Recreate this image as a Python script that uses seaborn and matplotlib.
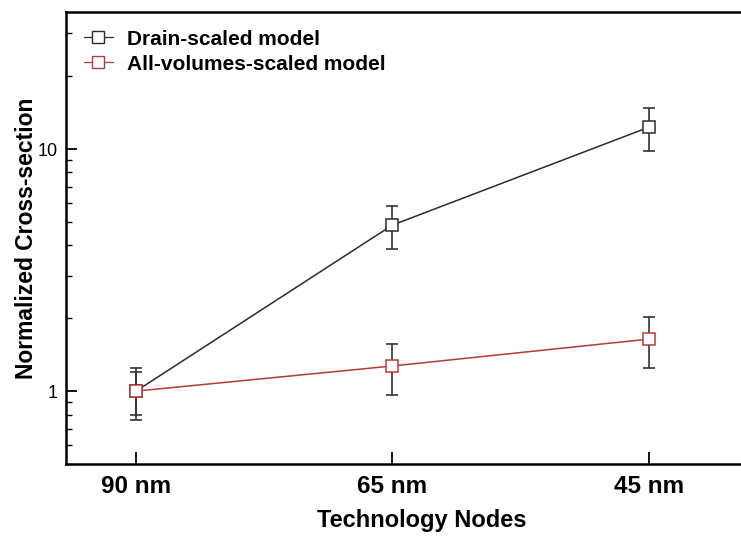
import numpy as np
import pandas as pd
import matplotlib
matplotlib.use("Agg")
import matplotlib.pyplot as plt
from matplotlib.ticker import LogLocator, FixedLocator, NullFormatter, FixedFormatter
from matplotlib.lines import Line2D
import seaborn as sns

# Technology nodes and normalized cross-section values
nodes = ["90 nm", "65 nm", "45 nm"]
drain_mean = [1.0, 4.85, 12.3]
drain_low = [0.76, 3.86, 9.8]
drain_high = [1.24, 5.83, 14.7]
allvol_mean = [1.0, 1.27, 1.64]
allvol_low = [0.80, 0.96, 1.24]
allvol_high = [1.20, 1.57, 2.02]
series_names = ["Drain-scaled model", "All-volumes-scaled model"]

sns.set_theme(style="ticks")
plt.rcParams["font.family"] = ["Liberation Sans", "DejaVu Sans"]
plt.rcParams["text.color"] = "black"
plt.rcParams["axes.labelcolor"] = "black"
plt.rcParams["xtick.color"] = "black"
plt.rcParams["ytick.color"] = "black"

pos = list(range(len(nodes)))
series = [
    (series_names[0], drain_mean, drain_low, drain_high, "#2b2b2b"),
    (series_names[1], allvol_mean, allvol_low, allvol_high, "#b53a3a"),
]

fig = plt.figure(figsize=(7.41, 5.36), dpi=100)
ax = fig.add_axes([66 / 741, 72 / 536, 711 / 741, 452 / 536])

# error bars first so the open markers sit on top
for name, mean, lo, hi, color in series:
    m = np.array(mean)
    err = np.vstack([m - np.array(lo), np.array(hi) - m])
    ax.errorbar(pos, m, yerr=err, fmt="none", ecolor="#333333",
                elinewidth=1.2, capsize=4.5, capthick=1.2, zorder=2)

handles = []
for name, mean, lo, hi, color in series:
    df = pd.DataFrame({"pos": pos, "value": mean})
    n_before = len(ax.lines)
    sns.lineplot(data=df, x="pos", y="value", color=color, linewidth=1.1,
                 marker="s", markersize=9, markerfacecolor="white",
                 markeredgecolor=color, markeredgewidth=1.1, ax=ax, zorder=3)
    for ln in ax.lines[n_before:]:
        ln.set_markeredgecolor(color)
        ln.set_markerfacecolor("white")
    handles.append(Line2D([], [], color=color, linewidth=0.9, marker="s",
                          markersize=8, markerfacecolor="white",
                          markeredgecolor=color, markeredgewidth=1.0))

ax.set_yscale("log")
ax.set_ylim(0.5, 36.8)
ax.set_xlim(-0.273, 2.5)

ax.yaxis.set_major_locator(FixedLocator([1, 10]))
ax.yaxis.set_major_formatter(FixedFormatter(["1", "10"]))
ax.yaxis.set_minor_locator(LogLocator(base=10, subs=np.arange(2, 10)))
ax.yaxis.set_minor_formatter(NullFormatter())

ax.set_xticks(pos)
ax.set_xticklabels(nodes, fontsize=17.5, fontweight="bold")
ax.tick_params(axis="x", direction="in", length=9, width=1.3, pad=8)
ax.tick_params(axis="y", which="major", direction="in", length=8, width=1.3,
               labelsize=13, pad=6)
ax.tick_params(axis="y", which="minor", direction="in", length=4.5, width=1.0)

for side in ["left", "bottom", "top"]:
    ax.spines[side].set_linewidth(1.8)
    ax.spines[side].set_color("black")
ax.spines["right"].set_visible(False)

ax.set_xlabel("Technology Nodes", fontsize=17, fontweight="bold", labelpad=8)
ax.set_ylabel("Normalized Cross-section", fontsize=16.5, fontweight="bold",
              labelpad=0)

ax.legend(handles, series_names, loc="upper left", frameon=False,
          handlelength=1.4, handletextpad=0.7, borderaxespad=0.55,
          borderpad=0.3, labelspacing=0.28,
          prop={"weight": "bold", "size": 15})

fig.savefig("out.png", dpi=100)
